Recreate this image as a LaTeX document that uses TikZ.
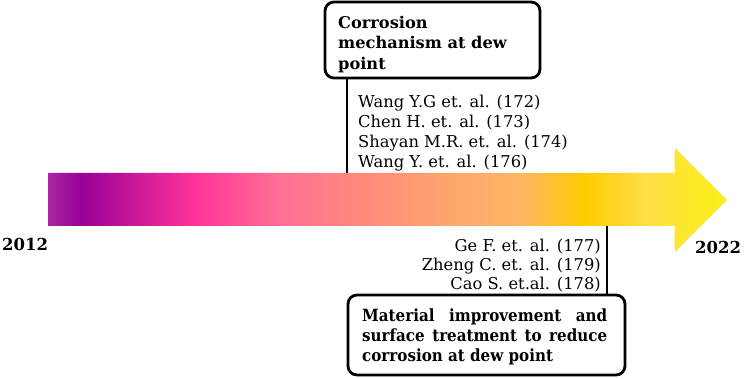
\documentclass[tikz,border=0pt]{standalone}
\usepackage{fontspec}
\setmainfont{DejaVu Serif}
\newfontfamily\narrowserif[FakeStretch=0.9]{DejaVu Serif}
\definecolor{tlA}{RGB}{168,40,160}
\definecolor{tlB}{RGB}{153,0,153}
\definecolor{tlC}{RGB}{255,51,153}
\definecolor{tlD}{RGB}{255,112,148}
\definecolor{tlE}{RGB}{255,140,122}
\definecolor{tlF}{RGB}{253,166,110}
\definecolor{tlG}{RGB}{253,182,100}
\definecolor{tlH}{RGB}{255,204,0}
\definecolor{tlI}{RGB}{255,222,70}
\definecolor{tlJ}{RGB}{250,240,20}
\pgfdeclarehorizontalshading{timeline}{100bp}{
  color(0bp)=(tlA);
  color(25bp)=(tlA);
  color(27.4bp)=(tlB);
  color(35.8bp)=(tlC);
  color(42.1bp)=(tlD);
  color(48.7bp)=(tlE);
  color(54.6bp)=(tlF);
  color(59.8bp)=(tlG);
  color(64.5bp)=(tlH);
  color(69bp)=(tlI);
  color(75bp)=(tlJ);
  color(100bp)=(tlJ)}
\begin{document}
\begin{tikzpicture}[x=1pt,y=-1pt,
  framebox/.style={draw=black,line width=2.8pt,rounded corners=9pt,fill=white,inner sep=0pt},
  headtext/.style={inner sep=0pt,align=left,font=\fontsize{16.2}{20.6}\selectfont\bfseries},
  cites/.style={inner sep=0pt,font=\fontsize{16.3}{20.3}\selectfont},
  year/.style={inner sep=0pt,font=\fontsize{16.5}{18}\selectfont\bfseries},
  link/.style={line width=2.8pt,draw=black}]
\useasboundingbox (0,0) rectangle (746,379);
% timeline arrow
\shade[shading=timeline] (48,173) -- (675,173) -- (675,148) -- (727,200)
  -- (675,252) -- (675,226) -- (48,226) -- cycle;
% upper group
\node[framebox,minimum width=215pt,minimum height=76pt] (topbox) at (432.5,40) {};
\node[headtext,anchor=north west] (toptext) at (338,15.5)
  {Corrosion\\mechanism at dew\\point};
\coordinate (tl) at (347,173);
\draw[link] (topbox.south -| tl) -- (tl);
\node[cites,anchor=north west,align=left] (topcites) at (358,94.5)
  {Wang Y.G et. al. (172)\\Chen H. et. al. (173)\\Shayan M.R. et. al. (174)\\Wang Y. et. al. (176)};
% lower group
\node[framebox,minimum width=277pt,minimum height=80pt] (botbox) at (486.5,335) {};
\node[headtext,anchor=north west,font=\fontsize{16.8}{19.7}\selectfont\narrowserif\bfseries] (bottext) at (362,309)
  {\makebox[245pt][s]{Material improvement and}\\\makebox[245pt][s]{surface treatment to reduce}\\corrosion at dew point};
\coordinate (bl) at (607,226);
\draw[link] (bl) -- (botbox.north -| bl);
\node[cites,anchor=north east,align=right,font=\fontsize{16.3}{19}\selectfont] (botcites) at (601,239)
  {Ge F. et. al. (177)\\Zheng C. et. al. (179)\\Cao S. et.al. (178)};
% years
\node[year,anchor=west] (y2012) at (2,244) {2012};
\node[year,anchor=west] (y2022) at (695,247) {2022};
\end{tikzpicture}
\end{document}
